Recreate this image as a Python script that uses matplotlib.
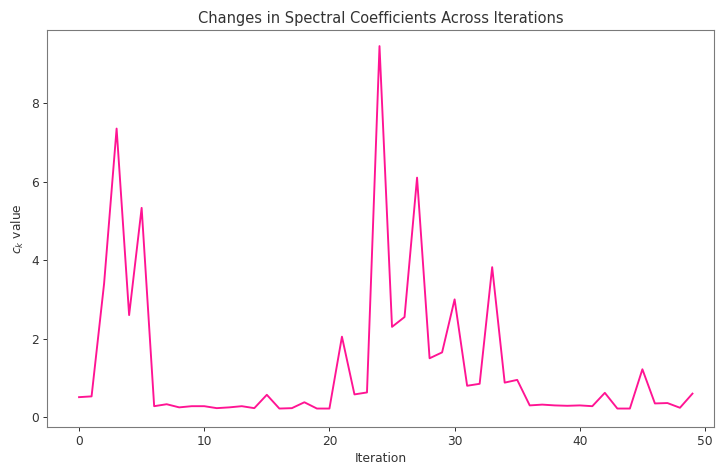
import matplotlib
matplotlib.use("Agg")
import matplotlib.pyplot as plt

iterations = list(range(50))
coef_values = [0.51, 0.53, 3.4, 7.35, 2.6, 5.33, 0.28, 0.33, 0.25, 0.28,
               0.28, 0.23, 0.25, 0.28, 0.23, 0.57, 0.22, 0.23, 0.38, 0.22,
               0.22, 2.05, 0.58, 0.63, 9.45, 2.3, 2.55, 6.1, 1.5, 1.65,
               3.0, 0.8, 0.85, 3.82, 0.88, 0.95, 0.3, 0.32, 0.3, 0.29,
               0.3, 0.28, 0.62, 0.22, 0.22, 1.22, 0.35, 0.36, 0.24, 0.6]

text_color = '#333333'
fig = plt.figure(figsize=(717/72, 467/72), dpi=72)
ax = fig.add_axes([47/717, 40/467, (714-47)/717, (427-30)/467])
ax.plot(iterations, coef_values, color='#FF1493', linewidth=1.9)
ax.set_xlim(-2.56, 50.72)
ax.set_ylim(-0.25, 9.86)
ax.set_title("Changes in Spectral Coefficients Across Iterations", fontsize=14.6, color=text_color, pad=7)
ax.set_xlabel("Iteration", fontsize=12.2, color=text_color, labelpad=4)
ax.set_ylabel("$c_k$ value", fontsize=12.2, color=text_color, labelpad=5)
for s in ax.spines.values():
    s.set_color('#7a7a7a')
    s.set_linewidth(1.1)
ax.tick_params(labelsize=12.2, labelcolor=text_color, color='#333333', length=4.2, width=1.0)
fig.savefig("out.png", dpi=72)
